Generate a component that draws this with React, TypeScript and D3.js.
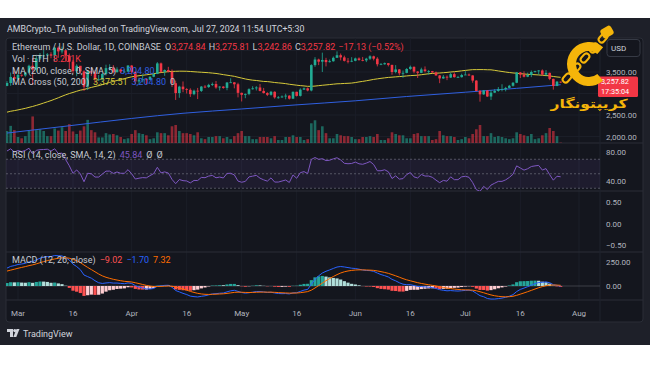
import React, { useEffect } from "react";
import * as d3 from "d3";

// daily closes before the visible window (Jan 1 – Feb 26), only used to warm up the indicators
const closesWarmup = [
  2352, 2355, 2210, 2269, 2268, 2240, 2222, 2331, 2344, 2585, 2617, 2523, 2576, 2472, 2511, 2587,
  2529, 2468, 2490, 2470, 2455, 2312, 2240, 2234, 2219, 2268, 2269, 2256, 2317, 2343, 2283,
  2304, 2309, 2297, 2290, 2300, 2375, 2429, 2421, 2486, 2505, 2508, 2658, 2641, 2778, 2823, 2804,
  2786, 2880, 2945, 3013, 2967, 2971, 2922, 2993, 3112, 3177,
];

// visible candles, Feb 27 – Jul 27 2024
const closes = [
  3244, 3385, 3340,
  3435, 3420, 3488, 3645, 3555, 3815, 3870, 3885, 3910, 3880, 4065, 3980, 4005, 3880, 3740, 3520,
  3645, 3515, 3160, 3515, 3490, 3330, 3330, 3455, 3590, 3590, 3500, 3560, 3510, 3510, 3650,
  3505, 3280, 3310, 3330, 3320, 3390, 3455, 3700, 3505, 3545, 3505, 3240, 3010, 3160, 3100, 3085,
  2985, 3065, 3060, 3160, 3150, 3200, 3220, 3140, 3160, 3130, 3255, 3260, 3215, 3015,
  2970, 2990, 3100, 3120, 3140, 3060, 3010, 2970, 3040, 2910, 2910, 2930, 2950, 2880, 3040, 2945,
  3090, 3120, 3070, 3660, 3790, 3740, 3780, 3730, 3750, 3830, 3890, 3840, 3760, 3750, 3760,
  3815, 3780, 3770, 3810, 3865, 3810, 3680, 3680, 3705, 3665, 3500, 3560, 3470, 3480, 3570, 3620,
  3510, 3480, 3560, 3520, 3520, 3490, 3420, 3350, 3390, 3370, 3450, 3380, 3380, 3430,
  3440, 3420, 3300, 3060, 2980, 3070, 2930, 3020, 3060, 3100, 3100, 3130, 3180, 3250, 3490, 3440,
  3390, 3430, 3500, 3520, 3535, 3440, 3480, 3340, 3175, 3275, 3257.82,
];
const highs = [
  3287, 3487, 3520,
  3450, 3440, 3500, 3670, 3825, 3900, 3940, 4010, 3940, 3960, 4085, 4095, 4090, 4010, 3930, 3780,
  3680, 3615, 3540, 3530, 3590, 3540, 3430, 3470, 3670, 3680, 3660, 3610, 3570, 3565, 3660,
  3660, 3505, 3365, 3445, 3340, 3400, 3460, 3730, 3720, 3560, 3620, 3560, 3300, 3180, 3280, 3125,
  3120, 3090, 3130, 3175, 3195, 3225, 3255, 3290, 3170, 3170, 3265, 3355, 3265, 3250,
  3020, 3000, 3120, 3170, 3170, 3220, 3130, 3030, 3060, 3050, 2940, 2955, 2995, 2960, 3045, 3040,
  3120, 3140, 3140, 3680, 3845, 3810, 3950, 3830, 3790, 3860, 3980, 3930, 3880, 3825, 3845,
  3835, 3840, 3850, 3830, 3890, 3880, 3845, 3710, 3720, 3710, 3670, 3660, 3570, 3535, 3590, 3650,
  3630, 3520, 3600, 3630, 3545, 3525, 3510, 3430, 3430, 3420, 3485, 3490, 3410, 3460,
  3520, 3465, 3425, 3310, 3080, 3080, 3080, 3080, 3100, 3150, 3215, 3155, 3200, 3265, 3500, 3500,
  3515, 3485, 3535, 3530, 3545, 3560, 3545, 3485, 3345, 3290, 3275.81,
];
const lows = [
  3170, 3180, 3300,
  3340, 3390, 3390, 3470, 3200, 3505, 3780, 3830, 3880, 3820, 3745, 3830, 3930, 3735, 3570, 3470,
  3400, 3460, 3060, 3080, 3410, 3250, 3290, 3300, 3420, 3560, 3470, 3480, 3470, 3490, 3500,
  3440, 3210, 3200, 3260, 3210, 3310, 3380, 3450, 3480, 3410, 3490, 3150, 2850, 2900, 3030, 3000,
  2920, 2960, 2870, 3035, 3125, 3130, 3175, 3110, 3070, 3110, 3075, 3250, 3120, 2910,
  2815, 2890, 2960, 3090, 3070, 3050, 3000, 2940, 2950, 2880, 2880, 2900, 2865, 2860, 2870, 2930,
  2930, 3085, 3050, 3050, 3620, 3660, 3500, 3630, 3720, 3740, 3830, 3770, 3745, 3700, 3730,
  3750, 3760, 3750, 3730, 3780, 3770, 3630, 3670, 3670, 3630, 3435, 3470, 3420, 3365, 3470, 3550,
  3470, 3360, 3475, 3490, 3440, 3480, 3415, 3240, 3340, 3310, 3360, 3370, 3375, 3370,
  3430, 3410, 3250, 3050, 2810, 2970, 2920, 2850, 3010, 3040, 3050, 3050, 3120, 3160, 3240, 3360,
  3375, 3380, 3380, 3485, 3440, 3420, 3400, 3310, 3090, 3170, 3242.86,
];
// volume, thousands of ETH
const volumes = [
  280, 400, 300,
  140, 110, 160, 280, 620, 300, 320, 280, 160, 160, 340, 290, 370, 280, 440, 270,
  210, 290, 390, 540, 300, 250, 130, 130, 230, 200, 210, 180, 140, 90, 110,
  210, 300, 230, 210, 180, 90, 110, 250, 230, 230, 180, 390, 420, 280, 230, 230,
  210, 180, 250, 110, 90, 140, 140, 160, 160, 110, 140, 90, 160, 230,
  280, 160, 160, 90, 90, 140, 140, 140, 110, 160, 70, 70, 140, 140, 180, 140,
  140, 70, 90, 460, 530, 300, 390, 230, 110, 110, 210, 180, 160, 160, 140,
  90, 90, 140, 140, 160, 140, 210, 70, 70, 110, 250, 210, 180, 180, 110, 110,
  210, 230, 160, 160, 160, 70, 90, 280, 180, 160, 160, 140, 70, 90,
  140, 110, 210, 320, 420, 160, 160, 230, 140, 160, 140, 110, 90, 110, 250, 210,
  180, 160, 210, 90, 110, 180, 230, 350, 280, 160, 8.2,
];

// 200-day SMA
const ma200Dates = [
  "2024-02-27", "2024-03-15", "2024-04-01", "2024-04-15", "2024-05-01", "2024-05-15",
  "2024-06-01", "2024-06-15", "2024-07-01", "2024-07-15", "2024-07-27",
];
const ma200Values = [2080, 2250, 2420, 2540, 2640, 2730, 2830, 2930, 3030, 3120, 3204];

const timeTicks = [
  "2024-03-01", "2024-03-16", "2024-04-01", "2024-04-16", "2024-05-01", "2024-05-16",
  "2024-06-01", "2024-06-16", "2024-07-01", "2024-07-16", "2024-08-01",
];
const timeTickLabels = ["Mar", "16", "Apr", "16", "May", "16", "Jun", "16", "Jul", "16", "Aug"];
// 4,000 and 3,000 sit under the USD box and the last-price tag, so only these show
const priceTicks = [3500, 2500, 2000];
const rsiTicks = [80, 40];
const emptyPaneTicks = [0.5, 0, -0.5];
const macdTicks = [250, 0];

const UP = "#22ab94";
const DOWN = "#f23645";
const FONT = "Roboto, 'Liberation Sans', sans-serif";
const AXIS_TEXT = "#b2b5be";

const fmt = d3.format(",.2f");
const fmtTick = (v: number) => fmt(v).replace("-", "\u2212");

function ema(values: number[], n: number) {
  const k = 2 / (n + 1);
  const out: number[] = [];
  let prev = values[0];
  values.forEach((v, i) => {
    prev = i === 0 ? v : v * k + prev * (1 - k);
    out.push(prev);
  });
  return out;
}

function rsi(values: number[], n: number) {
  const out = values.map(() => NaN);
  let g = 0;
  let l = 0;
  for (let i = 1; i <= n; i++) {
    const d = values[i] - values[i - 1];
    if (d > 0) g += d;
    else l -= d;
  }
  g /= n;
  l /= n;
  out[n] = 100 - 100 / (1 + g / l);
  for (let i = n + 1; i < values.length; i++) {
    const d = values[i] - values[i - 1];
    g = (g * (n - 1) + Math.max(d, 0)) / n;
    l = (l * (n - 1) + Math.max(-d, 0)) / n;
    out[i] = l === 0 ? 100 : 100 - 100 / (1 + g / l);
  }
  return out;
}

const App = () => {
  useEffect(() => {
    document.body.style.margin = "0";
  }, []);

  // layout
  const plotL = 6;
  const plotR = 600;
  const boxR = 643;
  const boxT = 38;
  const priceBot = 143;
  const rsiBot = 191;
  const emptyBot = 252;
  const macdBot = 300;
  const boxB = 322;

  const parse = d3.utcParse("%Y-%m-%d");
  const start = parse("2024-02-27") as Date;
  const n = Math.min(closes.length, highs.length, lows.length, volumes.length);
  const dates = d3.range(n).map(i => d3.utcDay.offset(start, i));
  const w0 = closesWarmup.length;
  const all = closesWarmup.concat(closes.slice(0, n));

  const x = d3
    .scaleUtc()
    .domain([parse("2024-03-01") as Date, parse("2024-08-01") as Date])
    .range([18, 579]);
  const yPrice = d3.scaleLinear().domain([2000, 3500]).range([136.5, 72]);
  const yVol = d3.scaleLinear().domain([0, 700]).range([priceBot, priceBot - 30]);
  const yRsi = d3.scaleLinear().domain([40, 80]).range([181, 152]);
  const yEmpty = d3.scaleLinear().domain([-0.5, 0.5]).range([245, 202]);
  const yMacd = d3.scaleLinear().domain([0, 250]).range([286, 262]);

  const cw = 2.6;

  // indicators
  const sma50 = d3.range(n).map(i => d3.mean(all.slice(w0 + i - 49, w0 + i + 1)) as number);
  const rsiAll = rsi(all, 14);
  const e12 = ema(all, 12);
  const e26 = ema(all, 26);
  const macdAll = e12.map((v, i) => v - e26[i]);
  const sigAll = ema(macdAll, 9);
  const histAll = macdAll.map((v, i) => v - sigAll[i]);

  const rsiVals = d3.range(n).map(i => rsiAll[w0 + i]);
  const macdVals = d3.range(n).map(i => macdAll[w0 + i]);
  const sigVals = d3.range(n).map(i => sigAll[w0 + i]);
  const histVals = d3.range(n).map(i => histAll[w0 + i]);

  const histColor = (i: number) => {
    const h = histAll[w0 + i];
    const p = histAll[w0 + i - 1];
    if (h >= 0) return p < h ? "#26a69a" : "#b2dfdb";
    return p < h ? "#ffcdd2" : "#ff5252";
  };

  const lineOf = (vals: number[], y: d3.ScaleLinear<number, number>) =>
    d3
      .line<number>()
      .x((_, i) => x(dates[i]))
      .y(v => y(v))(vals) || "";

  const ma200Line =
    d3
      .line<number>()
      .curve(d3.curveMonotoneX)
      .x((_, i) => x(parse(ma200Dates[i]) as Date))
      .y(v => yPrice(v))(ma200Values) || "";

  const opens = d3.range(n).map(i => all[w0 + i - 1]);

  return (
    <svg
      width={650}
      height={365}
      style={{ position: "absolute", left: 0, top: 0, display: "block", background: "#ffffff" }}
      fontFamily={FONT}
    >
      <defs>
        <clipPath id="pricePane">
          <rect x={plotL} y={boxT} width={plotR - plotL} height={priceBot - boxT} />
        </clipPath>
        <clipPath id="rsiPane">
          <rect x={plotL} y={priceBot} width={plotR - plotL} height={rsiBot - priceBot} />
        </clipPath>
        <clipPath id="macdPane">
          <rect x={plotL} y={emptyBot} width={plotR - plotL} height={macdBot - emptyBot} />
        </clipPath>
      </defs>

      {/* frame */}
      <rect x={0} y={18} width={650} height={327} fill="#1e2029" />
      <rect x={plotL} y={boxT} width={boxR - plotL} height={boxB - boxT} rx={3} fill="#14161e" stroke="#2a2d37" />
      <text x={7} y={32} fontSize={8.8} fill="#d1d4dc">
        AMBCrypto_TA published on TradingView.com, Jul 27, 2024 11:54 UTC+5:30
      </text>

      {/* grid */}
      {timeTicks.map(t => (
        <line key={t} x1={x(parse(t) as Date)} x2={x(parse(t) as Date)} y1={boxT} y2={macdBot} stroke="#1b1e28" />
      ))}
      {[4000, 3500, 3000, 2500, 2000].map(p => (
        <line key={p} x1={plotL} x2={plotR} y1={yPrice(p)} y2={yPrice(p)} stroke="#1b1e28" />
      ))}

      {/* pane separators */}
      {[priceBot, rsiBot, emptyBot, macdBot].map(y => (
        <line key={y} x1={plotL} x2={boxR} y1={y} y2={y} stroke="#2a2d37" />
      ))}
      <line x1={plotR} x2={plotR} y1={boxT} y2={boxB} stroke="#1f222c" />

      {/* price pane */}
      <g clipPath="url(#pricePane)">
        {d3.range(n).map(i => (
          <rect
            key={"v" + i}
            x={x(dates[i]) - cw / 2}
            y={yVol(volumes[i])}
            width={cw}
            height={priceBot - yVol(volumes[i])}
            fill={closes[i] >= opens[i] ? UP : DOWN}
            opacity={0.55}
          />
        ))}
        <path d={ma200Line} fill="none" stroke="#2f5fe0" strokeWidth={1} />
        <path d={lineOf(sma50, yPrice)} fill="none" stroke="#d6c93a" strokeWidth={1} />
        {d3.range(n).map(i => {
          const up = closes[i] >= opens[i];
          const c = up ? UP : DOWN;
          const top = yPrice(Math.max(opens[i], closes[i]));
          const bot = yPrice(Math.min(opens[i], closes[i]));
          const cx = x(dates[i]);
          return (
            <g key={"c" + i}>
              <line x1={cx} x2={cx} y1={yPrice(highs[i])} y2={yPrice(lows[i])} stroke={c} strokeWidth={0.8} />
              <rect x={cx - cw / 2} y={top} width={cw} height={Math.max(bot - top, 0.8)} fill={c} />
            </g>
          );
        })}
      </g>

      {/* RSI pane */}
      <rect x={plotL} y={yRsi(70)} width={plotR - plotL} height={yRsi(30) - yRsi(70)} fill="rgba(126,87,194,0.1)" />
      {[70, 50, 30].map(v => (
        <line
          key={v}
          x1={plotL}
          x2={plotR}
          y1={yRsi(v)}
          y2={yRsi(v)}
          stroke="#787b86"
          strokeDasharray="2,2"
          opacity={0.6}
        />
      ))}
      <g clipPath="url(#rsiPane)">
        <path d={lineOf(rsiVals, yRsi)} fill="none" stroke="#7e57c2" strokeWidth={1} />
      </g>

      {/* MACD pane */}
      <line x1={plotL} x2={plotR} y1={yMacd(0)} y2={yMacd(0)} stroke="#787b86" opacity={0.4} />
      <g clipPath="url(#macdPane)">
        {d3.range(n).map(i => {
          const h = histVals[i];
          return (
            <rect
              key={"h" + i}
              x={x(dates[i]) - 1.6}
              y={Math.min(yMacd(h), yMacd(0))}
              width={3.2}
              height={Math.abs(yMacd(h) - yMacd(0))}
              fill={histColor(i)}
            />
          );
        })}
        <path d={lineOf(macdVals, yMacd)} fill="none" stroke="#2962ff" strokeWidth={1} />
        <path d={lineOf(sigVals, yMacd)} fill="none" stroke="#ff6d00" strokeWidth={1} />
      </g>

      {/* legends */}
      <g fontSize={9} fill="#c7cad2">
        <text x={12} y={50}>
          Ethereum / U.S. Dollar, 1D, COINBASE
          <tspan dx={4}>O</tspan>
          <tspan fill={DOWN}>3,274.84</tspan>
          <tspan dx={3}>H</tspan>
          <tspan fill={DOWN}>3,275.81</tspan>
          <tspan dx={3}>L</tspan>
          <tspan fill={DOWN}>3,242.86</tspan>
          <tspan dx={3}>C</tspan>
          <tspan fill={DOWN}>3,257.82</tspan>
          <tspan dx={3} fill={DOWN}>{"\u221217.13 (\u22120.52%)"}</tspan>
        </text>
        <text x={12} y={62}>
          {"Vol \u00b7 ETH"}
          <tspan dx={4} fill={DOWN}>8.201K</tspan>
        </text>
        <text x={12} y={74}>
          MA (200, close, 0, SMA, 5)
          <tspan dx={4} fill="#2f5fe0">3,204.80</tspan>
        </text>
        <text x={12} y={85}>
          MA Cross (50, 200)
          <tspan dx={4} fill="#d6c93a">3,375.51</tspan>
          <tspan dx={4} fill="#2f5fe0">3,204.80</tspan>
          <tspan dx={4}>0</tspan>
        </text>
        <text x={12} y={158}>
          RSI (14, close, SMA, 14, 2)
          <tspan dx={4} fill="#7e57c2">45.84</tspan>
          <tspan dx={4}>{"\u00d8"}</tspan>
          <tspan dx={4}>{"\u00d8"}</tspan>
        </text>
        <text x={12} y={263}>
          MACD (12, 26, close)
          <tspan dx={4} fill="#ff5252">{"\u22129.02"}</tspan>
          <tspan dx={4} fill="#2962ff">{"\u22121.70"}</tspan>
          <tspan dx={4} fill="#ff6d00">7.32</tspan>
        </text>
      </g>

      {/* right axis */}
      <g fontSize={8} fill={AXIS_TEXT}>
        {priceTicks.map(p => (
          <text key={p} x={606} y={yPrice(p) + 3}>
            {fmtTick(p)}
          </text>
        ))}
        {rsiTicks.map(v => (
          <text key={v} x={606} y={yRsi(v) + 3}>
            {fmtTick(v)}
          </text>
        ))}
        {emptyPaneTicks.map(v => (
          <text key={v} x={606} y={yEmpty(v) + 3}>
            {fmtTick(v)}
          </text>
        ))}
        {macdTicks.map(v => (
          <text key={v} x={606} y={yMacd(v) + 3}>
            {fmtTick(v)}
          </text>
        ))}
      </g>

      {/* time axis */}
      <g fontSize={8} fill={AXIS_TEXT} textAnchor="middle">
        {timeTicks.map((t, i) => (
          <text key={t} x={x(parse(t) as Date)} y={316}>
            {timeTickLabels[i]}
          </text>
        ))}
      </g>

      {/* USD box and last price */}
      <rect x={607} y={39.5} width={33} height={17} rx={3} fill="#14161e" stroke="#363a45" />
      <text x={611} y={51} fontSize={8} fill="#d1d4dc">
        USD
      </text>
      <rect x={598} y={76.5} width={40} height={20.5} rx={1.5} fill={DOWN} />
      <text x={601} y={84} fontSize={7.3} fill="#ffffff">
        {fmt(closes[n - 1])}
      </text>
      <text x={601} y={93.5} fontSize={7.3} fill="#ffffff">
        17:35:04
      </text>

      {/* TradingView footer */}
      <g fill="#d1d4dc">
        <path d="M7,329 h6 v8 h-3 v-5 h-3 z" />
        <circle cx={14.8} cy={330.6} r={1.6} />
        <path d="M16.5,329 h3 l-3.2,8 h-3 z" />
        <text x={23} y={337} fontSize={9} fontFamily={FONT}>
          TradingView
        </text>
      </g>

      {/* watermark */}
      <g>
        <path
          d={
            d3
              .arc()
              .innerRadius(13)
              .outerRadius(22)
              .startAngle((140 * Math.PI) / 180)
              .endAngle((400 * Math.PI) / 180)({} as any) || ""
          }
          transform="translate(589,64)"
          fill="#f5b50a"
        />
        {[0, 1, 2, 3, 4].map(k => (
          <rect
            key={k}
            x={-5}
            y={-3}
            width={10}
            height={6}
            rx={3}
            fill="none"
            stroke="#f5b50a"
            strokeWidth={2}
            transform={`translate(${603 - k * 9},${38 + k * 10}) rotate(-48)`}
          />
        ))}
        <rect x={601} y={27} width={12} height={10} rx={3} fill="#f5b50a" transform="rotate(-30,607,32)" />
        <text
          x={0}
          y={0}
          fontSize={12.5}
          fontWeight="bold"
          fill="#f5b50a"
          textAnchor="middle"
          fontFamily="'DejaVu Sans', sans-serif"
          direction="rtl"
          transform="translate(589,107.5) scale(1.25,1)"
        >
          کریپتونگار
        </text>
      </g>
    </svg>
  );
};

export default App;
